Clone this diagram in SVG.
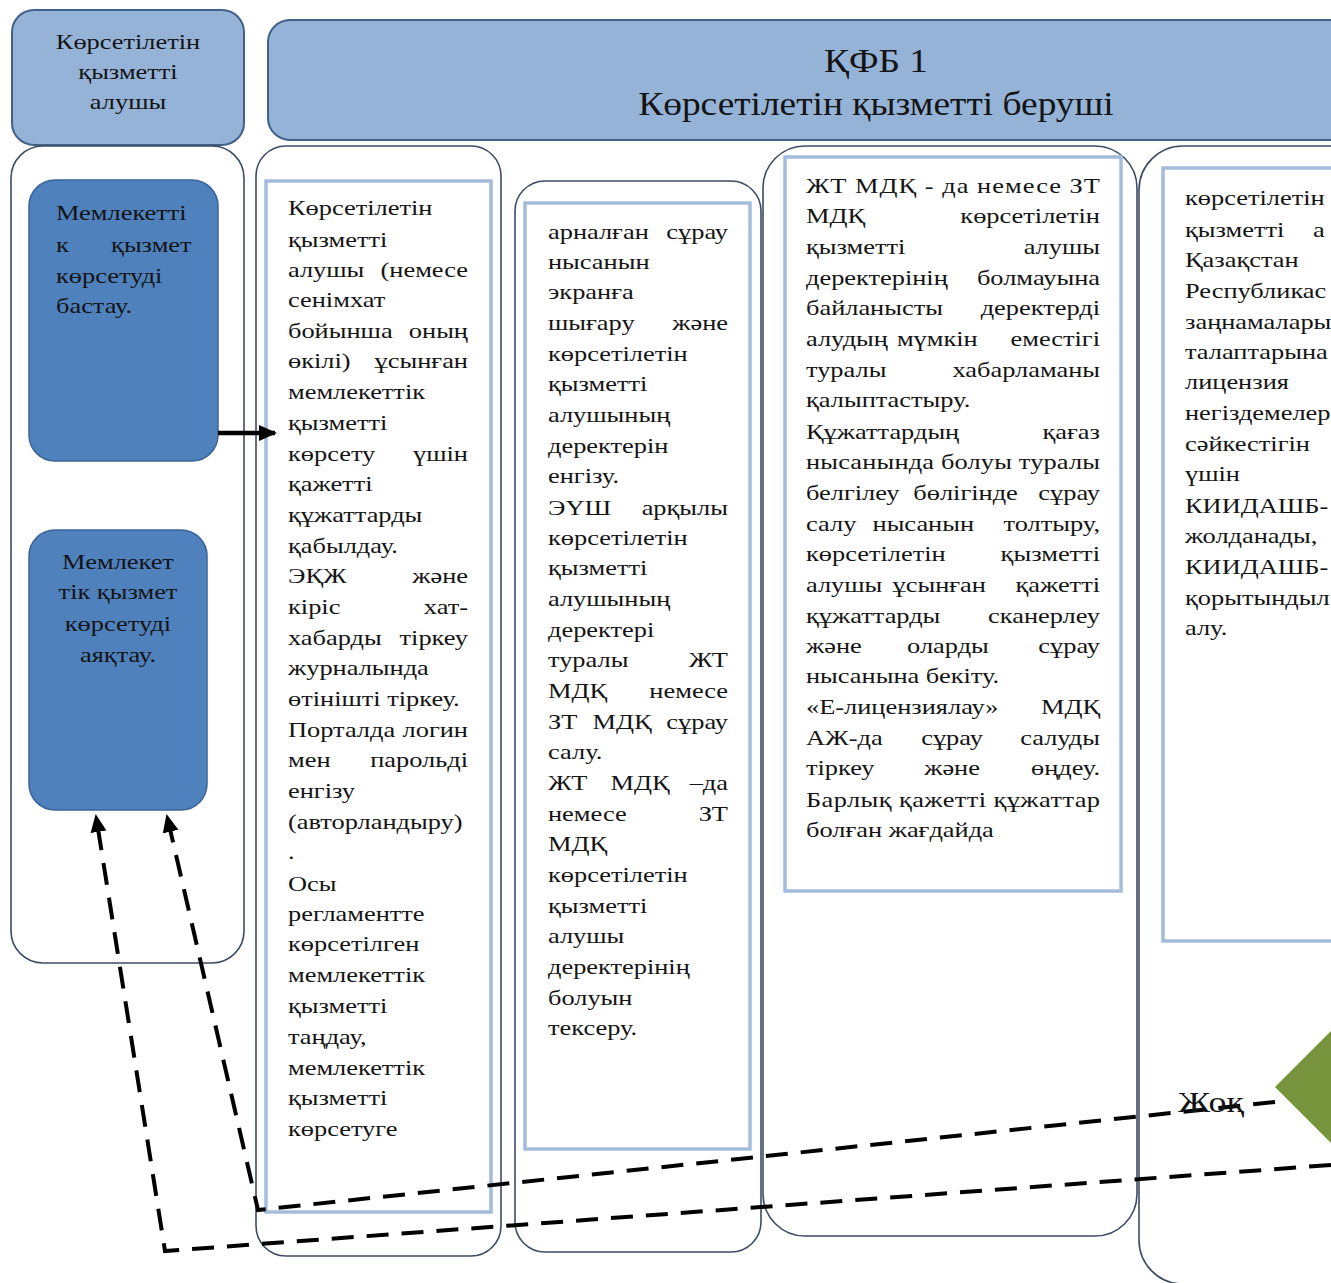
<svg xmlns="http://www.w3.org/2000/svg" width="1331" height="1283" viewBox="0 0 1331 1283">
<style>
.hdr{fill:#95b3d7;stroke:#41618a;stroke-width:2}
.lane{fill:#ffffff;stroke:#3d4c63;stroke-width:1.6}
.inner{fill:#ffffff;stroke:#a3bcdc;stroke-width:3.5}
.blue{fill:#4f81bd;stroke:#3a6496;stroke-width:1.5}
.t{font-family:"Liberation Serif","Times New Roman",serif;font-size:22px;fill:#141414}
.h{font-family:"Liberation Serif","Times New Roman",serif;font-size:34px;fill:#141414}
.e{text-anchor:end}
.m{text-anchor:middle}
.dash{fill:none;stroke:#000;stroke-width:4;stroke-dasharray:22 13}
</style>
<defs>
<marker id="ah" markerUnits="userSpaceOnUse" markerWidth="18" markerHeight="18" viewBox="0 0 18 18" refX="16" refY="9" orient="auto">
<path d="M0,1 L18,9 L0,17 Z" fill="#000"/>
</marker>
</defs>
<rect width="1331" height="1283" fill="#ffffff"/>

<g id="header-receiver">
<rect class="hdr" x="12" y="10" width="232" height="135" rx="22"/>
<g transform="translate(128 0) scale(1.2 1)">
<text class="t m" x="0" y="49">Көрсетілетін</text>
<text class="t m" x="0" y="79">қызметті</text>
<text class="t m" x="0" y="109">алушы</text>
</g>
</g>

<g id="header-provider">
<rect class="hdr" x="268" y="20" width="1120" height="120" rx="22"/>
<g transform="translate(876 0) scale(1.1 1)">
<text class="h m" x="0" y="72">ҚФБ 1</text>
<text class="h m" x="0" y="115">Көрсетілетін қызметті беруші</text>
</g>
</g>

<g id="lane-receiver">
<rect class="lane" x="11" y="146" width="233" height="817" rx="32"/>
</g>

<g id="lane-1">
<rect class="lane" x="256" y="146" width="245" height="1110" rx="30"/>
<rect class="inner" x="266" y="181" width="225" height="1031"/>
<g transform="translate(288 0) scale(1.2 1)">
<text class="t" x="0" y="215">Көрсетілетін</text>
<text class="t" x="0" y="247">қызметті</text>
<text class="t" x="0" y="277">алушы</text><text class="t e" x="150" y="277">(немесе</text>
<text class="t" x="0" y="307">сенімхат</text>
<text class="t" x="0" y="338">бойынша</text><text class="t e" x="150" y="338">оның</text>
<text class="t" x="0" y="368">өкілі)</text><text class="t e" x="150" y="368">ұсынған</text>
<text class="t" x="0" y="399">мемлекеттік</text>
<text class="t" x="0" y="430">қызметті</text>
<text class="t" x="0" y="461">көрсету</text><text class="t e" x="150" y="461">үшін</text>
<text class="t" x="0" y="491">қажетті</text>
<text class="t" x="0" y="522">құжаттарды</text>
<text class="t" x="0" y="553">қабылдау.</text>
<text class="t" x="0" y="583">ЭҚЖ</text><text class="t e" x="150" y="583">және</text>
<text class="t" x="0" y="614">кіріс</text><text class="t e" x="150" y="614">хат-</text>
<text class="t" x="0" y="645">хабарды</text><text class="t e" x="150" y="645">тіркеу</text>
<text class="t" x="0" y="675">журналында</text>
<text class="t" x="0" y="706">өтінішті тіркеу.</text>
<text class="t" x="0" y="737">Порталда</text><text class="t e" x="150" y="737">логин</text>
<text class="t" x="0" y="767">мен</text><text class="t e" x="150" y="767">парольді</text>
<text class="t" x="0" y="798">енгізу</text>
<text class="t" x="0" y="829">(авторландыру)</text>
<text class="t" x="0" y="859">.</text>
<text class="t" x="0" y="891">Осы</text>
<text class="t" x="0" y="921">регламентте</text>
<text class="t" x="0" y="951">көрсетілген</text>
<text class="t" x="0" y="982">мемлекеттік</text>
<text class="t" x="0" y="1013">қызметті</text>
<text class="t" x="0" y="1044">таңдау,</text>
<text class="t" x="0" y="1075">мемлекеттік</text>
<text class="t" x="0" y="1105">қызметті</text>
<text class="t" x="0" y="1136">көрсетуге</text>
</g>
</g>

<g id="lane-2">
<rect class="lane" x="515" y="181" width="246" height="1071" rx="30"/>
<rect class="inner" x="525" y="203" width="225" height="946"/>
<g transform="translate(548 0) scale(1.2 1)">
<text class="t" x="0" y="239">арналған</text><text class="t e" x="150" y="239">сұрау</text>
<text class="t" x="0" y="269">нысанын</text>
<text class="t" x="0" y="299">экранға</text>
<text class="t" x="0" y="330">шығару</text><text class="t e" x="150" y="330">және</text>
<text class="t" x="0" y="361">көрсетілетін</text>
<text class="t" x="0" y="391">қызметті</text>
<text class="t" x="0" y="422">алушының</text>
<text class="t" x="0" y="453">деректерін</text>
<text class="t" x="0" y="483">енгізу.</text>
<text class="t" x="0" y="515">ЭҮШ</text><text class="t e" x="150" y="515">арқылы</text>
<text class="t" x="0" y="545">көрсетілетін</text>
<text class="t" x="0" y="575">қызметті</text>
<text class="t" x="0" y="606">алушының</text>
<text class="t" x="0" y="637">деректері</text>
<text class="t" x="0" y="667">туралы</text><text class="t e" x="150" y="667">ЖТ</text>
<text class="t" x="0" y="698">МДҚ</text><text class="t e" x="150" y="698">немесе</text>
<text class="t" x="0" y="729">ЗТ</text><text class="t m" x="61.7" y="729">МДҚ</text><text class="t e" x="150" y="729">сұрау</text>
<text class="t" x="0" y="759">салу.</text>
<text class="t" x="0" y="790">ЖТ</text><text class="t m" x="76.7" y="790">МДҚ</text><text class="t e" x="150" y="790">–да</text>
<text class="t" x="0" y="821">немесе</text><text class="t e" x="150" y="821">ЗТ</text>
<text class="t" x="0" y="851">МДҚ</text>
<text class="t" x="0" y="882">көрсетілетін</text>
<text class="t" x="0" y="913">қызметті</text>
<text class="t" x="0" y="943">алушы</text>
<text class="t" x="0" y="974">деректерінің</text>
<text class="t" x="0" y="1005">болуын</text>
<text class="t" x="0" y="1035">тексеру.</text>
</g>
</g>

<g id="lane-3">
<rect class="lane" x="763" y="146" width="374" height="1090" rx="42"/>
<rect class="inner" x="785" y="157" width="336" height="734"/>
<g transform="translate(806 0) scale(1.2 1)">
<text class="t" x="0" y="193" textLength="245" lengthAdjust="spacing">ЖТ МДҚ - да немесе ЗТ</text>
<text class="t" x="0" y="223">МДҚ</text><text class="t e" x="245" y="223">көрсетілетін</text>
<text class="t" x="0" y="254">қызметті</text><text class="t e" x="245" y="254">алушы</text>
<text class="t" x="0" y="285">деректерінің</text><text class="t e" x="245" y="285">болмауына</text>
<text class="t" x="0" y="315">байланысты</text><text class="t e" x="245" y="315">деректерді</text>
<text class="t" x="0" y="346">алудың <tspan dx="2">мүмкін</tspan></text><text class="t e" x="245" y="346">еместігі</text>
<text class="t" x="0" y="377">туралы</text><text class="t e" x="245" y="377">хабарламаны</text>
<text class="t" x="0" y="407">қалыптастыру.</text>
<text class="t" x="0" y="439">Құжаттардың</text><text class="t e" x="245" y="439">қағаз</text>
<text class="t" x="0" y="469" textLength="245" lengthAdjust="spacing">нысанында болуы туралы</text>
<text class="t" x="0" y="500">белгілеу <tspan dx="6">бөлігінде</tspan></text><text class="t e" x="245" y="500">сұрау</text>
<text class="t" x="0" y="531">салу <tspan dx="8">нысанын</tspan></text><text class="t e" x="245" y="531">толтыру,</text>
<text class="t" x="0" y="561">көрсетілетін</text><text class="t e" x="245" y="561">қызметті</text>
<text class="t" x="0" y="592">алушы <tspan dx="3">ұсынған</tspan></text><text class="t e" x="245" y="592">қажетті</text>
<text class="t" x="0" y="623">құжаттарды</text><text class="t e" x="245" y="623">сканерлеу</text>
<text class="t" x="0" y="653">және</text><text class="t m" x="118.3" y="653">оларды</text><text class="t e" x="245" y="653">сұрау</text>
<text class="t" x="0" y="683">нысанына бекіту.</text>
<text class="t" x="0" y="714">«Е-лицензиялау»</text><text class="t e" x="245" y="714">МДҚ</text>
<text class="t" x="0" y="745">АЖ-да</text><text class="t m" x="121.7" y="745">сұрау</text><text class="t e" x="245" y="745">салуды</text>
<text class="t" x="0" y="775">тіркеу</text><text class="t m" x="121.7" y="775">және</text><text class="t e" x="245" y="775">өңдеу.</text>
<text class="t" x="0" y="807" textLength="245" lengthAdjust="spacing">Барлық қажетті құжаттар</text>
<text class="t" x="0" y="837">болған жағдайда</text>
</g>
</g>

<g id="lane-4">
<rect class="lane" x="1139" y="146" width="260" height="1138" rx="44"/>
<rect class="inner" x="1163" y="168" width="220" height="773"/>
<g transform="translate(1185 0) scale(1.2 1)">
<text class="t" x="0" y="205">көрсетілетін</text>
<text class="t" x="0" y="237">қызметті</text><text class="t" x="106.7" y="237">а</text>
<text class="t" x="0" y="267">Қазақстан</text>
<text class="t" x="0" y="298">Республикас</text>
<text class="t" x="0" y="329">заңнамалары</text>
<text class="t" x="0" y="359">талаптарына</text>
<text class="t" x="0" y="389">лицензия</text>
<text class="t" x="0" y="420">негіздемелер</text>
<text class="t" x="0" y="451">сәйкестігін</text>
<text class="t" x="0" y="481">үшін</text>
<text class="t" x="0" y="513">КИИДАШБ-</text>
<text class="t" x="0" y="543">жолданады,</text>
<text class="t" x="0" y="574">КИИДАШБ-</text>
<text class="t" x="0" y="605">қорытындыл</text>
<text class="t" x="0" y="635">алу.</text>
</g>
</g>

<g id="node-start">
<rect class="blue" x="29" y="180" width="189" height="281" rx="26"/>
<g transform="translate(56 0) scale(1.2 1)">
<text class="t" x="0" y="220">Мемлекетті</text>
<text class="t" x="0" y="252">к</text><text class="t e" x="113" y="252">қызмет</text>
<text class="t" x="0" y="283">көрсетуді</text>
<text class="t" x="0" y="313">бастау.</text>
</g>
</g>

<g id="node-end">
<rect class="blue" x="29" y="530" width="178" height="280" rx="26"/>
<g transform="translate(118 0) scale(1.2 1)">
<text class="t m" x="0" y="569">Мемлекет</text>
<text class="t m" x="0" y="599">тік қызмет</text>
<text class="t m" x="0" y="631">көрсетуді</text>
<text class="t m" x="0" y="662">аяқтау.</text>
</g>
</g>

<g id="node-decision">
<polygon points="1275,1087 1333,1029 1391,1087 1333,1145" fill="#77933c"/>
</g>

<g id="connectors">
<line x1="218" y1="433" x2="275" y2="433" stroke="#000" stroke-width="4.5" marker-end="url(#ah)"/>
<path class="dash" d="M1275,1102 L258,1210 L167,816" marker-end="url(#ah)"/>
<path class="dash" d="M1331,1165 L165,1251 L96,816" marker-end="url(#ah)"/>
<g transform="translate(1178 0) scale(1.2 1)">
<text class="t" x="0" y="1112" style="font-size:30px">Жоқ</text>
</g>
</g>
</svg>
